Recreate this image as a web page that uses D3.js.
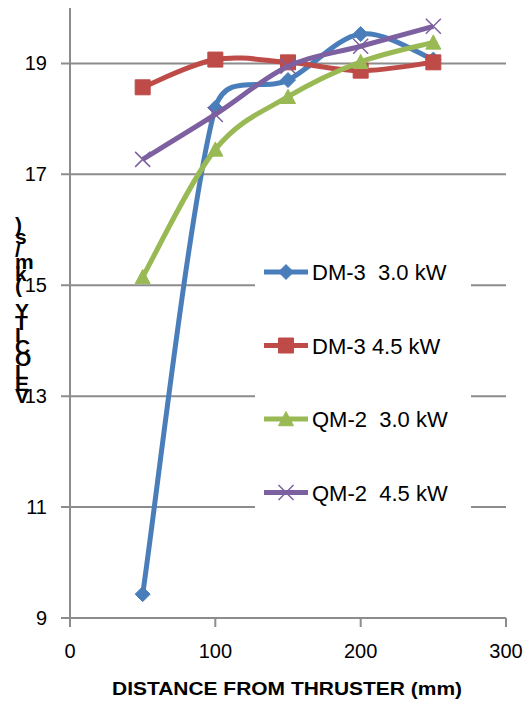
<!DOCTYPE html>
<html>
<head>
<meta charset="utf-8">
<script src="https://cdn.jsdelivr.net/npm/d3@7"></script>
<style>
  body { margin: 0; background: #fff; }
  text { font-family: "Liberation Sans", Arial, sans-serif; fill: #000; }
</style>
</head>
<body>
<script>
var width = 531;
var height = 714;

// data
var distances = [50, 100, 150, 200, 250];
var dm3_30 = [9.43, 18.2, 18.7, 19.53, 19.07];
var dm3_45 = [18.57, 19.07, 19.02, 18.87, 19.02];
var qm2_30 = [15.15, 17.45, 18.4, 19.03, 19.38];
var qm2_45 = [17.27, 18.08, 18.95, 19.31, 19.67];
var seriesNames = ["DM-3  3.0 kW", "DM-3 4.5 kW", "QM-2  3.0 kW", "QM-2  4.5 kW"];
var xTicks = [0, 100, 200, 300];
var yTicks = [9, 11, 13, 15, 17, 19];
var yTitle = "VELOCITY (km/s)";
var xTitle = "DISTANCE FROM THRUSTER (mm)";

var series = [
    {name: seriesNames[0], values: dm3_30, color: "#4a7ebb", marker: "diamond"},
    {name: seriesNames[1], values: dm3_45, color: "#be4b48", marker: "square"},
    {name: seriesNames[2], values: qm2_30, color: "#98b954", marker: "triangle"},
    {name: seriesNames[3], values: qm2_45, color: "#7d60a0", marker: "cross"}
];

// spreadsheet style smoothing: bezier with tangents (P2-P0)/6,
// each control arm capped at half of its segment length
function SmoothCurve(context) { this._context = context; }
SmoothCurve.prototype = {
    areaStart: function() { this._line = 0; },
    areaEnd: function() { this._line = NaN; },
    lineStart: function() { this._pts = []; },
    point: function(x, y) { this._pts.push([+x, +y]); },
    lineEnd: function() {
        var p = this._pts, n = p.length, ctx = this._context;
        if (!n) return;
        ctx.moveTo(p[0][0], p[0][1]);
        for (var i = 0; i < n - 1; i++) {
            var p0 = p[Math.max(i - 1, 0)], p1 = p[i], p2 = p[i + 1], p3 = p[Math.min(i + 2, n - 1)];
            var d12 = Math.hypot(p2[0] - p1[0], p2[1] - p1[1]);
            var t1 = [(p2[0] - p0[0]) / 6, (p2[1] - p0[1]) / 6];
            var t2 = [(p3[0] - p1[0]) / 6, (p3[1] - p1[1]) / 6];
            var l1 = Math.hypot(t1[0], t1[1]), l2 = Math.hypot(t2[0], t2[1]);
            var f1 = l1 > d12 / 2 ? (d12 / 2) / l1 : 1;
            var f2 = l2 > d12 / 2 ? (d12 / 2) / l2 : 1;
            ctx.bezierCurveTo(
                p1[0] + t1[0] * f1, p1[1] + t1[1] * f1,
                p2[0] - t2[0] * f2, p2[1] - t2[1] * f2,
                p2[0], p2[1]);
        }
    }
};
function smoothCurve(context) { return new SmoothCurve(context); }

var svg = d3.select("body")
    .append("svg")
    .attr("width", width)
    .attr("height", height);

var x = d3.scaleLinear().domain([0, 300]).range([70, 506]);
var y = d3.scaleLinear().domain([9, 20]).range([618, 8]);

var grey = "#8c8c8c";

// gridlines (with the left tick stub)
svg.append("g")
    .selectAll("line")
    .data(yTicks)
    .join("line")
    .attr("x1", 61)
    .attr("x2", x(300))
    .attr("y1", d => y(d))
    .attr("y2", d => y(d))
    .attr("stroke", grey)
    .attr("stroke-width", 2);

// y axis line
svg.append("line")
    .attr("x1", x(0)).attr("x2", x(0))
    .attr("y1", y(20)).attr("y2", y(9) + 9)
    .attr("stroke", grey).attr("stroke-width", 2);

// x tick marks
svg.append("g")
    .selectAll("line")
    .data(xTicks)
    .join("line")
    .attr("x1", d => x(d)).attr("x2", d => x(d))
    .attr("y1", y(9)).attr("y2", y(9) + 9)
    .attr("stroke", grey).attr("stroke-width", 2);

// tick labels
svg.append("g")
    .selectAll("text")
    .data(yTicks)
    .join("text")
    .attr("x", 47)
    .attr("y", d => y(d) + 7)
    .attr("text-anchor", "end")
    .style("font-size", "20px")
    .text(d => d);

svg.append("g")
    .selectAll("text")
    .data(xTicks)
    .join("text")
    .attr("x", d => x(d))
    .attr("y", 658)
    .attr("text-anchor", "middle")
    .style("font-size", "20px")
    .text(d => d);

// x title
svg.append("text")
    .attr("x", 287)
    .attr("y", 695)
    .attr("text-anchor", "middle")
    .attr("textLength", 350)
    .attr("lengthAdjust", "spacingAndGlyphs")
    .style("font-size", "19px")
    .style("font-weight", "bold")
    .text(xTitle);

// y title, letters stacked upright from the bottom
svg.append("g")
    .selectAll("text")
    .data(yTitle.split(""))
    .join("text")
    .attr("x", 15)
    .attr("y", (d, i) => 403 - i * 12.2)
    .style("font-size", "21px")
    .style("font-weight", "bold")
    .text(d => d);

// legend background covers gridlines
svg.append("rect")
    .attr("x", 255).attr("y", 236)
    .attr("width", 216).attr("height", 290)
    .attr("fill", "#fff");

function markerPath(type, s) {
    if (type === "diamond") return `M0,${-s}L${s},0L0,${s}L${-s},0Z`;
    if (type === "square") return `M${-s},${-s}H${s}V${s}H${-s}Z`;
    if (type === "triangle") return `M0,${-s}L${s},${s * 0.9}L${-s},${s * 0.9}Z`;
    return `M${-s},${-s}L${s},${s}M${s},${-s}L${-s},${s}`;
}

function drawMarker(sel, type, color) {
    var size = type === "square" ? 7.5 : (type === "diamond" ? 7.5 : 7.5);
    sel.append("path")
        .attr("d", markerPath(type, size))
        .attr("fill", type === "cross" ? "none" : color)
        .attr("stroke", color)
        .attr("stroke-width", type === "cross" ? 1.5 : 1);
}

var line = d3.line()
    .x((d, i) => x(distances[i]))
    .y(d => y(d))
    .curve(smoothCurve);

var plot = svg.append("g");

series.forEach(s => {
    plot.append("path")
        .datum(s.values)
        .attr("d", line)
        .attr("fill", "none")
        .attr("stroke", s.color)
        .attr("stroke-width", 5)
        .attr("stroke-linejoin", "round");

    s.values.forEach((v, i) => {
        var g = plot.append("g")
            .attr("transform", `translate(${x(distances[i])},${y(v)})`);
        drawMarker(g, s.marker, s.color);
    });
});

// legend
var legend = svg.append("g");
series.forEach((s, i) => {
    var ly = 272 + i * 73.5;
    legend.append("line")
        .attr("x1", 264).attr("x2", 308)
        .attr("y1", ly).attr("y2", ly)
        .attr("stroke", s.color)
        .attr("stroke-width", 5);
    var g = legend.append("g").attr("transform", `translate(286,${ly})`);
    drawMarker(g, s.marker, s.color);
    legend.append("text")
        .attr("x", 312)
        .attr("y", ly + 8)
        .style("font-size", "22px")
        .style("white-space", "pre")
        .attr("xml:space", "preserve")
        .text(s.name);
});
</script>
</body>
</html>
